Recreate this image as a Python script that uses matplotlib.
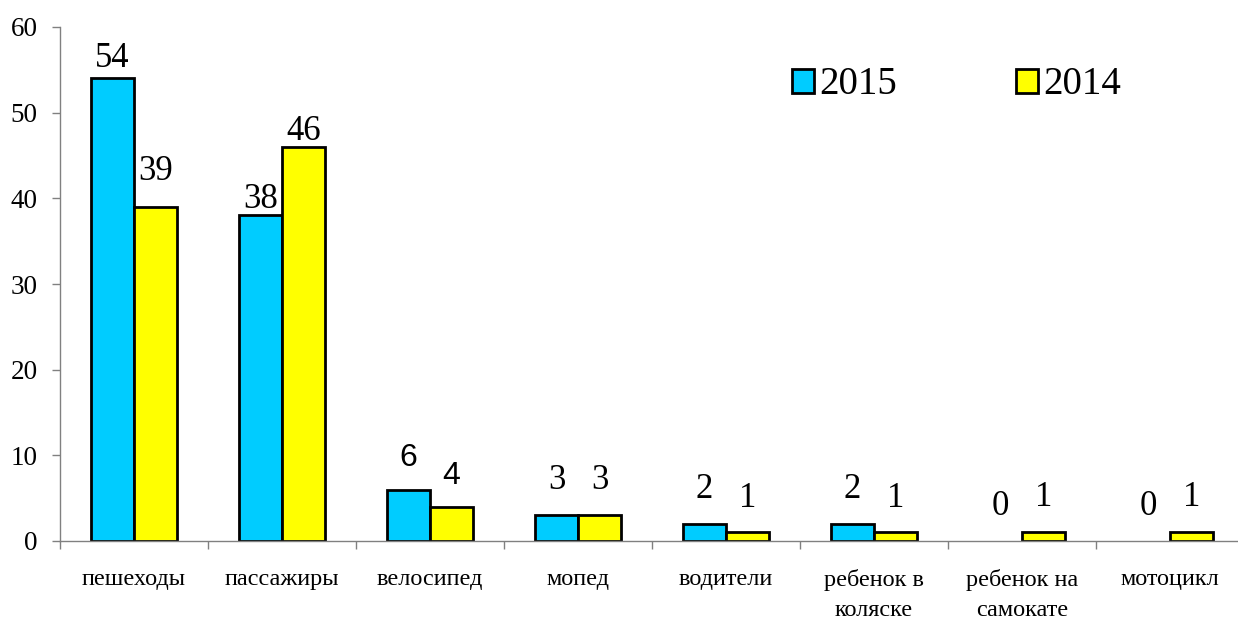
import numpy as np
import matplotlib
matplotlib.use("Agg")
import matplotlib.pyplot as plt
from matplotlib.patches import Patch

# data
categories = ["пешеходы", "пассажиры", "велосипед", "мопед", "водители",
              "ребенок в\nколяске", "ребенок на\nсамокате", "мотоцикл"]
vals_2015 = [54, 38, 6, 3, 2, 2, 0, 0]
vals_2014 = [39, 46, 4, 3, 1, 1, 1, 1]
series_names = ["2015", "2014"]

BLUE = "#00CCFF"
YELLOW = "#FFFF00"
SERIF = ["Liberation Serif", "DejaVu Serif"]
SANS = ["Liberation Sans", "DejaVu Sans"]

# gap between label baseline and bar top, in pixels (2015, 2014)
gap_2015 = [11, 7, 24, 26, 26, 26, 26, 26]
gap_2014 = [27, 7, 23, 26, 25, 25, 26, 26]
# the velosiped labels are in a sans font in the original
sans_idx = {2}

fig = plt.figure(figsize=(12.38, 6.19), dpi=100)
ax = fig.add_axes([60 / 1238, 78 / 619, 1184 / 1238, 514 / 619])

x = np.arange(len(categories))
w = 0.29
lw1 = [2 if v else 0 for v in vals_2015]
lw2 = [2 if v else 0 for v in vals_2014]
b1 = ax.bar(x - w / 2, vals_2015, w, color=BLUE, edgecolor="black", linewidth=lw1)
b2 = ax.bar(x + w / 2, vals_2014, w, color=YELLOW, edgecolor="black", linewidth=lw2)

for bars, vals, gaps in ((b1, vals_2015, gap_2015), (b2, vals_2014, gap_2014)):
    for i, (r, v, g) in enumerate(zip(bars, vals, gaps)):
        fam = SANS if i in sans_idx else SERIF
        fs = 23 if i in sans_idx else 25
        ax.annotate(str(v), (r.get_x() + r.get_width() / 2, v),
                    xytext=(0, g), textcoords="offset pixels",
                    ha="center", va="baseline", fontsize=fs, family=fam)

ax.set_xlim(-0.5, len(categories) - 0.5)
ax.set_ylim(0, 60)
ax.set_yticks(range(0, 61, 10))
ax.set_xticks(np.arange(-0.5, len(categories), 1.0))
ax.set_xticklabels([])
ax.set_xticks(x, minor=True)
ax.set_xticklabels(categories, minor=True, family=SERIF, fontsize=17.5,
                   linespacing=1.55, va="top")
ax.tick_params(axis="x", which="major", length=6, width=1, color="#808080",
               direction="out")
ax.tick_params(axis="x", which="minor", length=0, pad=20)
ax.tick_params(axis="y", length=6, width=1, color="#808080", direction="out",
               labelsize=19.5, pad=10)
for lbl in ax.get_yticklabels():
    lbl.set_family(SERIF)

for s in ("top", "right"):
    ax.spines[s].set_visible(False)
for s in ("left", "bottom"):
    ax.spines[s].set_color("#808080")
    ax.spines[s].set_linewidth(1)

handles = [Patch(facecolor=BLUE, edgecolor="black", lw=2),
           Patch(facecolor=YELLOW, edgecolor="black", lw=2)]
fig.legend(handles, series_names, ncol=2, frameon=False,
           prop={"family": SERIF, "size": 28},
           handlelength=0.57, handleheight=0.57, handletextpad=0.13,
           columnspacing=3.05, loc="center left", borderpad=0,
           borderaxespad=0, bbox_to_anchor=(792 / 1238, 1 - 85 / 619))

fig.savefig("out.png", dpi=100)
